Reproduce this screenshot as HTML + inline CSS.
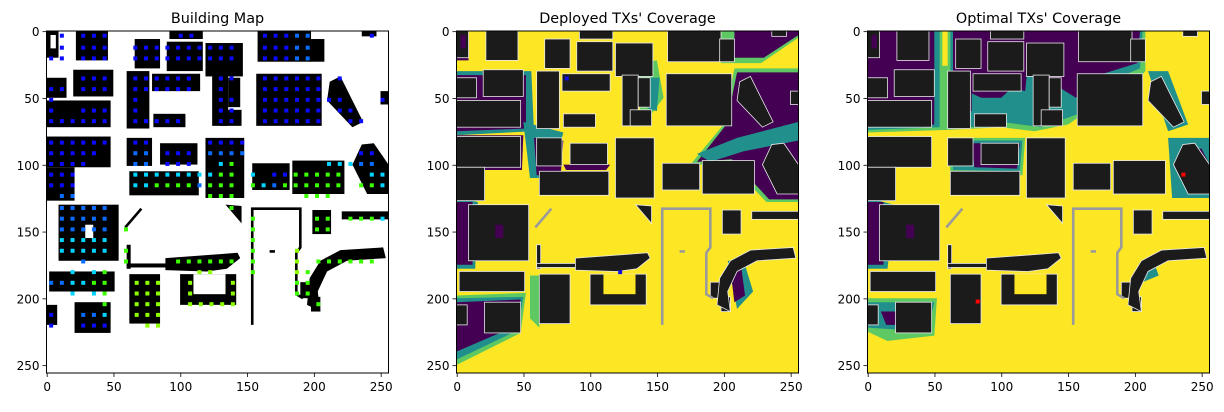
<!DOCTYPE html>
<html><head><meta charset="utf-8">
<style>
html,body{margin:0;padding:0;background:#fff;}
svg text{font-family:"DejaVu Sans","Liberation Sans",sans-serif;fill:#000;}
</style></head>
<body>
<svg id="fig" width="1224" height="407" viewBox="0 0 1224 407" xmlns="http://www.w3.org/2000/svg"></svg>
<script>
// ---- data (map coordinates 0..255) ----
const ticks = [0,50,100,150,200,250];
const panelTitles = ["Building Map","Deployed TXs' Coverage","Optimal TXs' Coverage"];
const panelLeft = [46.5, 456.5, 867.5];
const rects = [[0,0,9,20],[22,0,24,22],[66,6,19,22],[90,8,27,22],[119,9,28,25],[92,0,25,6],[158,0,40,23],[197,6,11,17],[236,0,11,4],
[20,29,30,20],[0,35,15,15],[0,52,48,20],[60,30,17,43],[79,32,36,13],[80,62,24,10],[124,33,12,38],[136,35,9,22],[130,59,16,12],[157,32,49,39],[250,45,6,10],
[0,79,48,23],[0,102,21,25],[60,80,19,21],[85,84,28,16],[62,105,52,18],[119,80,29,45],[154,99,28,20],[184,97,39,25],
[9,130,45,42],[2,180,49,15],[21,203,27,23],[0,205,8,15],[62,182,23,37],[100,182,42,23],[199,134,14,18],[221,135,35,6],[60,160,3,18],[60,174,30,3],[190,188,13,12],[198,199,7,11]];
const holes = [[3,3,4,10],[110,182,24,15],[29,145,6,10]];
const polys = [[[212,38],[220,34],[237,68],[229,72],[210,52]],[[236,85],[245,84],[256,100],[256,122],[240,122],[229,100]],
[[195,205],[197,185],[205,172],[220,164],[252,162],[254,170],[225,172],[210,180],[203,195],[205,210]],
[[89,170],[130,167],[143,166],[145,170],[135,178],[120,180],[89,179]],[[134,130],[146,131],[146,144]]];
const lines = [[[59,147],[71,133]],[[154,220],[154,133],[190,133],[190,162],[187,166],[187,197],[192,200]],[[167,165],[171,165]]];
// dots: [y, x0, count, colour]
const dots = [[3,11,1,'b'],[3,27,3,'b'],[3,100,2,'b'],[3,163,3,'b'],[3,187,2,'l'],[3,243,1,'b'],
[12,11,1,'b'],[12,27,3,'b'],[12,66,3,'b'],[12,90,4,'b'],[12,122,3,'b'],[12,163,3,'b'],[12,187,2,'l'],
[20,3,2,'b'],[20,27,3,'b'],[20,66,3,'b'],[20,90,4,'b'],[20,122,3,'b'],[20,163,3,'b'],[20,187,2,'l'],
[35,27,3,'b'],[35,66,2,'b'],[35,82,4,'b'],[35,130,2,'b'],[35,163,6,'b'],[35,219,1,'b'],
[43,3,2,'b'],[43,27,3,'b'],[43,66,2,'b'],[43,82,4,'b'],[43,130,1,'b'],[43,163,6,'b'],
[51,3,1,'b'],[51,66,1,'b'],[51,130,2,'b'],[51,163,6,'b'],[51,211,2,'b'],[51,251,1,'b'],
[59,3,1,'b'],[59,27,3,'b'],[59,66,1,'b'],[59,130,2,'b'],[59,163,6,'b'],[59,219,2,'b'],
[67,3,6,'b'],[67,66,5,'b'],[67,130,2,'b'],[67,163,6,'b'],[67,227,2,'b'],
[83,3,6,'b'],[83,66,2,'b'],[83,122,4,'b'],
[91,3,5,'b'],[91,66,2,'l'],[91,90,3,'b'],[91,122,4,'l'],[91,235,2,'b'],
[99,3,4,'b'],[99,66,2,'l'],[99,90,3,'b'],[99,130,1,'c'],[99,138,1,'g'],[99,211,3,'c'],[99,235,2,'l'],
[107,3,3,'b'],[107,66,7,'c'],[107,122,1,'c'],[107,130,2,'g'],[107,154,1,'c'],[107,170,2,'b'],[107,186,5,'g'],[107,243,2,'c'],
[115,3,3,'b'],[115,66,2,'c'],[115,82,4,'g'],[115,114,1,'l'],[115,122,3,'g'],[115,154,1,'g'],[115,162,1,'c'],[115,170,1,'l'],[115,178,6,'g'],[115,235,2,'g'],[115,251,1,'c'],
[123,11,2,'l'],[123,122,3,'g'],[123,194,3,'g'],
[132,11,5,'l'],[132,138,1,'g'],
[140,11,5,'l'],[140,154,1,'g'],[140,202,2,'g'],[140,227,3,'g'],[140,251,1,'c'],
[148,11,5,'l'],[148,59,1,'g'],[148,154,1,'g'],[148,202,2,'g'],
[156,11,5,'c'],[156,154,1,'g'],
[164,11,5,'c'],[164,59,1,'g'],[164,154,1,'g'],[164,187,1,'y'],
[172,27,1,'l'],[172,59,1,'g'],[172,98,6,'g'],[172,154,1,'g'],[172,187,1,'y'],[172,203,2,'g'],[172,219,4,'g'],
[180,19,1,'c'],[180,35,1,'c'],[180,43,1,'g'],[180,114,2,'y'],[180,154,1,'g'],[180,187,1,'y'],[180,195,1,'g'],
[188,3,2,'l'],[188,19,2,'c'],[188,35,2,'g'],[188,67,3,'y'],[188,107,1,'y'],[188,139,1,'y'],[188,187,2,'g'],
[196,19,1,'c'],[196,35,1,'c'],[196,43,1,'g'],[196,67,3,'y'],[196,107,1,'y'],[196,139,1,'y'],[196,187,2,'g'],
[204,43,1,'g'],[204,67,3,'y'],[204,107,5,'y'],[204,203,1,'g'],
[212,3,1,'b'],[212,27,2,'l'],[212,43,1,'c'],[212,67,3,'y'],
[220,3,1,'b'],[220,27,3,'b'],[220,75,2,'y']];
const dotColours = {b:'#0a0aff',l:'#0a6cff',c:'#00d4ff',g:'#3cff00',y:'#8cff00'};
// coverage regions
const cov2 = [
 ['#440154',[[0,0],[9,0],[9,22],[0,22]]],
 ['#21908c',[[0,30],[56,30],[58,75],[0,78]]],
 ['#440154',[[0,33],[52,33],[52,73],[0,75]]],
 ['#440154',[[0,78],[50,78],[49,104],[0,104]]],
 ['#21908c',[[0,125],[16,128],[14,178],[0,178]]],
 ['#440154',[[0,128],[12,128],[12,175],[0,175]]],
 ['#5ec962',[[0,198],[52,196],[48,226],[0,250]]],
 ['#21908c',[[0,200],[50,199],[46,224],[0,246]]],
 ['#440154',[[0,203],[48,201],[44,221],[0,240]]],
 ['#5ec962',[[198,0],[256,0],[256,5],[228,24],[198,24]]],
 ['#440154',[[208,0],[256,0],[256,3],[230,20],[208,20]]],
 ['#5ec962',[[208,28],[256,28],[256,128],[232,128],[205,100],[175,100],[200,70]]],
 ['#440154',[[210,31],[256,31],[256,126],[234,126],[206,96],[180,98],[202,70]]],
 ['#21908c',[[180,92],[210,80],[256,68],[256,82],[215,90],[190,98]]],
 ['#21908c',[[50,68],[80,76],[70,110],[55,110]]],
 ['#440154',[[58,80],[80,82],[78,108],[60,108]]],
 ['#5ec962',[[130,25],[150,22],[155,50],[140,70]]],
 ['#21908c',[[143,35],[152,35],[150,60],[143,58]]],
 ['#440154',[[80,100],[115,100],[112,104],[82,104]]],
 ['#21908c',[[203,172],[215,172],[222,195],[210,208]]],
 ['#440154',[[205,178],[213,176],[216,198],[208,203]]],
 ['#5ec962',[[55,183],[62,183],[62,222],[55,215]]]];
const cov3 = [
 ['#5ec962',[[0,0],[56,0],[56,26],[60,26],[60,0],[208,0],[208,30],[200,40],[165,60],[150,70],[125,75],[100,72],[60,74],[0,76]]],
 ['#21908c',[[0,0],[54,0],[54,72],[0,74]]],
 ['#440154',[[0,0],[50,0],[50,70],[0,72]]],
 ['#21908c',[[62,0],[206,0],[204,28],[175,40],[158,62],[130,72],[100,68],[80,72],[62,70]]],
 ['#440154',[[64,0],[204,0],[202,24],[170,34],[156,50],[140,40],[122,30],[100,50],[85,50],[64,40]]],
 ['#440154',[[64,40],[78,40],[78,60],[64,60]]],
 ['#440154',[[100,26],[120,26],[118,45],[100,40]]],
 ['#5ec962',[[60,80],[118,80],[116,108],[62,106]]],
 ['#21908c',[[62,82],[116,82],[114,105],[64,104]]],
 ['#440154',[[78,84],[114,84],[112,103],[80,102]]],
 ['#21908c',[[0,125],[20,130],[15,178],[0,178]]],
 ['#440154',[[0,128],[12,128],[12,175],[0,175]]],
 ['#5ec962',[[0,200],[52,200],[50,228],[15,232],[0,225]]],
 ['#21908c',[[0,203],[50,203],[45,225],[0,222]]],
 ['#440154',[[10,210],[24,210],[24,220],[14,220]]],
 ['#21908c',[[225,80],[256,80],[256,125],[228,125]]],
 ['#440154',[[235,88],[250,88],[256,100],[256,110],[238,100]]],
 ['#21908c',[[210,30],[225,30],[240,70],[225,75]]],
 ['#21908c',[[203,174],[214,172],[218,183],[206,188]]]];
const txDeployed = [[82,35],[122,180]];
const txOptimal = [[236,107],[82,202]];

const NS='http://www.w3.org/2000/svg';
const svg=document.getElementById('fig');
const PW=342, TOP=31;
const S=PW/256;
function mk(tag,attrs,parent){const e=document.createElementNS(NS,tag);for(const k in attrs)e.setAttribute(k,attrs[k]);parent.appendChild(e);return e;}
function sx(p,v){return panelLeft[p]+(v+0.5)*S;}
function sy(v){return TOP+(v+0.5)*S;}
function ptsStr(p,arr){return arr.map(q=>sx(p,q[0]-0.5)+','+sy(q[1]-0.5)).join(' ');}

for(let p=0;p<3;p++){
  const g=mk('g',{},svg);
  
  
  const x0=panelLeft[p];
  const bg=mk('rect',{x:x0,y:TOP,width:PW,height:PW,fill:p===0?'#fff':'#fde725'},g);
  
  
  const cov = p===1?cov2:(p===2?cov3:[]);
  cov.forEach(c=>{
    const e=mk('polygon',{points:ptsStr(p,c[1]),fill:c[0]},g);
    
    
  });
  const bfill=p===0?'#000':'#1b1b1b';
  const bstroke=p===0?'none':'#e8e8e8';
  rects.forEach(r=>{
    const e=mk('rect',{x:sx(p,r[0]-0.5),y:sy(r[1]-0.5),width:r[2]*S,height:r[3]*S,fill:bfill,stroke:bstroke,'stroke-width':0.8},g);
    
    
  });
  polys.forEach(r=>{
    const e=mk('polygon',{points:ptsStr(p,r),fill:bfill,stroke:bstroke,'stroke-width':0.8},g);
    
    
  });
  holes.forEach(r=>{
    const e=mk('rect',{x:sx(p,r[0]-0.5),y:sy(r[1]-0.5),width:r[2]*S,height:r[3]*S,fill:p===0?'#fff':(r[0]===110?'#fde725':'#440154')},g);
    
    
  });
  lines.forEach(l=>{
    const e=mk('polyline',{points:ptsStr(p,l),fill:'none',stroke:p===0?'#000':'#9a9a9a','stroke-width':2.6}, g);
    
    
  });
  if(p===0){
    dots.forEach(d=>{
      for(let i=0;i<d[2];i++){
        const e=mk('rect',{x:sx(p,d[1]+i*8-1.5),y:sy(d[0]-1.5),width:3*S,height:3*S,fill:dotColours[d[3]]},g);
        
        
      }
    });
  }
  const tx = p===1?txDeployed:(p===2?txOptimal:[]);
  tx.forEach(t=>{
    const e=mk('rect',{x:sx(p,t[0]-1.5),y:sy(t[1]-1.5),width:3*S,height:3*S,fill:p===1?'#1010e0':'#ff0000'},g);
    
    
  });
  const fr=mk('rect',{x:x0,y:TOP,width:PW,height:PW,fill:'none',stroke:'#000','stroke-width':1},g);
  
  
  ticks.forEach(t=>{
    const X=sx(p,t), Y=sy(t);
    const a=mk('line',{x1:X,y1:TOP+PW,x2:X,y2:TOP+PW+4,stroke:'#000','stroke-width':0.8},g);
    
    
    const tl=mk('text',{x:X,y:TOP+PW+18,'text-anchor':'middle','font-size':12},g);
    tl.textContent=t;
    
    
    const b=mk('line',{x1:x0-4,y1:Y,x2:x0,y2:Y,stroke:'#000','stroke-width':0.8},g);
    
    
    const yl=mk('text',{x:x0-7,y:Y+4.5,'text-anchor':'end','font-size':12},g);
    yl.textContent=t;
    
    
  });
  const tt=mk('text',{x:x0+PW/2,y:23,'text-anchor':'middle','font-size':14.4},g);
  tt.textContent=panelTitles[p];
  
  
}
</script>
</body></html>
